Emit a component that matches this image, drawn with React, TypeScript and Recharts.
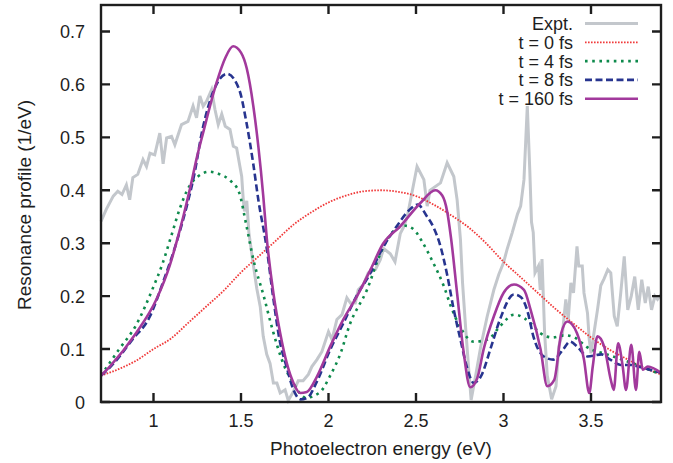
import React from "react";
import { LineChart, Line, XAxis, YAxis } from "recharts";

const exptEnergy = [
  0.7, 0.73, 0.77, 0.796, 0.82, 0.845, 0.864, 0.882, 0.91, 0.94, 0.96, 0.98, 1.007, 1.036, 1.055,
  1.075, 1.103, 1.122, 1.16, 1.197, 1.226, 1.246, 1.265, 1.284, 1.303, 1.332, 1.351, 1.37, 1.39,
  1.41, 1.437, 1.456, 1.475, 1.504, 1.513, 1.52, 1.533, 1.545, 1.57, 1.59, 1.61, 1.627, 1.647,
  1.666, 1.685, 1.705, 1.724, 1.752, 1.77, 1.8, 1.827, 1.855, 1.885, 1.905, 1.934, 1.962, 2.0,
  2.02, 2.048, 2.077, 2.105, 2.125, 2.153, 2.17, 2.2, 2.227, 2.268, 2.296, 2.315, 2.353, 2.38,
  2.41, 2.43, 2.45, 2.506, 2.545, 2.564, 2.58, 2.64, 2.678, 2.716, 2.735, 2.754, 2.766, 2.783,
  2.8, 2.815, 2.84, 2.87, 2.907, 2.945, 2.973, 3.0, 3.02, 3.05, 3.08, 3.098, 3.117, 3.136, 3.15,
  3.16, 3.17, 3.18, 3.2, 3.21, 3.22, 3.235, 3.25, 3.275, 3.3, 3.316, 3.337, 3.356, 3.37, 3.385,
  3.4, 3.42, 3.43, 3.45, 3.46, 3.48, 3.49, 3.5, 3.52, 3.537, 3.556, 3.575, 3.596, 3.613, 3.633,
  3.65, 3.67, 3.69, 3.71, 3.73, 3.75, 3.77, 3.79, 3.81, 3.827, 3.846, 3.865, 3.88, 3.9,
];
const exptValues = [
  0.341, 0.364, 0.389, 0.398, 0.392, 0.41, 0.382, 0.424, 0.43, 0.458, 0.445, 0.47, 0.467, 0.508,
  0.45, 0.499, 0.502, 0.486, 0.524, 0.53, 0.559, 0.537, 0.578, 0.559, 0.568, 0.59, 0.553, 0.524,
  0.544, 0.521, 0.515, 0.483, 0.48, 0.426, 0.382, 0.36, 0.38, 0.32, 0.26, 0.215, 0.18, 0.124,
  0.09, 0.073, 0.036, 0.036, 0.017, 0.023, 0.003, 0.02, 0.04, 0.04, 0.052, 0.067, 0.08, 0.095,
  0.133, 0.118, 0.156, 0.165, 0.197, 0.187, 0.187, 0.212, 0.222, 0.244, 0.25, 0.269, 0.29, 0.28,
  0.265, 0.318, 0.331, 0.35, 0.445, 0.42, 0.37, 0.4, 0.414, 0.452, 0.426, 0.382, 0.307, 0.225,
  0.143, 0.067, 0.004, 0.048, 0.105, 0.162, 0.212, 0.241, 0.263, 0.288, 0.32, 0.355, 0.37, 0.42,
  0.559, 0.44, 0.34, 0.32, 0.244, 0.257, 0.212, 0.27, 0.13, 0.05, 0.005, 0.03, 0.105, 0.13, 0.194,
  0.156, 0.225, 0.206, 0.294, 0.257, 0.257, 0.206, 0.168, 0.118, 0.092, 0.137, 0.174, 0.22, 0.233,
  0.25, 0.244, 0.162, 0.143, 0.206, 0.275, 0.174, 0.2, 0.237, 0.174, 0.231, 0.187, 0.218, 0.174,
  0.2, 0.194, 0.203,
];

const t0Energy = [
  0.7, 0.8, 0.9, 1.0, 1.1, 1.2, 1.3, 1.4, 1.5, 1.6, 1.7, 1.8, 1.9, 2.0, 2.1, 2.2, 2.3, 2.4, 2.5,
  2.6, 2.7, 2.8, 2.9, 3.0, 3.1, 3.2, 3.3, 3.4, 3.5, 3.6, 3.7, 3.8, 3.9,
];
const t0Values = [
  0.05, 0.062, 0.078, 0.1, 0.12, 0.15, 0.18, 0.21, 0.245, 0.275, 0.305, 0.335, 0.358, 0.377, 0.39,
  0.398, 0.4, 0.397, 0.389, 0.373, 0.353, 0.33, 0.3, 0.265, 0.235, 0.205, 0.175, 0.148, 0.122,
  0.1, 0.082, 0.065, 0.052,
];

const t4Energy = [
  0.7, 0.8, 0.9, 1.0, 1.05, 1.1, 1.15, 1.2, 1.25, 1.32, 1.38, 1.44, 1.49, 1.53, 1.57, 1.63, 1.68,
  1.74, 1.8, 1.87, 1.95, 2.01, 2.07, 2.12, 2.22, 2.3, 2.37, 2.44, 2.49, 2.54, 2.6, 2.66, 2.7, 2.75,
  2.83, 2.91, 2.98, 3.06, 3.12, 3.16, 3.21, 3.28, 3.35, 3.41, 3.48, 3.59, 3.73, 3.9,
];
const t4Values = [
  0.05, 0.098, 0.145, 0.218, 0.26, 0.312, 0.365, 0.405, 0.425, 0.435, 0.43, 0.418, 0.395, 0.335,
  0.27, 0.2, 0.137, 0.074, 0.035, 0.008, 0.018, 0.05, 0.093, 0.145, 0.212, 0.283, 0.322, 0.333,
  0.325, 0.3, 0.262, 0.218, 0.18, 0.143, 0.114, 0.118, 0.143, 0.165, 0.158, 0.147, 0.13, 0.122,
  0.126, 0.121, 0.103, 0.09, 0.074, 0.052,
];

const t8Energy = [
  0.7, 0.75, 0.88, 0.98, 1.05, 1.13, 1.19, 1.23, 1.28, 1.34, 1.42, 1.49, 1.53, 1.57, 1.6, 1.645,
  1.685, 1.72, 1.76, 1.8, 1.84, 1.88, 1.93, 2.01, 2.085, 2.16, 2.24, 2.3, 2.39, 2.46, 2.51, 2.56,
  2.6, 2.64, 2.68, 2.716, 2.754, 2.79, 2.83, 2.87, 2.93, 2.98, 3.06, 3.1, 3.14, 3.17, 3.23, 3.285,
  3.34, 3.38, 3.42, 3.48, 3.56, 3.61, 3.67, 3.73, 3.78, 3.9,
];
const t8Values = [
  0.05, 0.065, 0.118, 0.162, 0.222, 0.3, 0.37, 0.425, 0.515, 0.585, 0.62, 0.59, 0.53, 0.45, 0.38,
  0.295, 0.195, 0.118, 0.067, 0.023, 0.005, 0.008, 0.036, 0.099, 0.149, 0.2, 0.244, 0.285, 0.332,
  0.362, 0.373, 0.352, 0.33, 0.294, 0.237, 0.174, 0.118, 0.067, 0.036, 0.048, 0.105, 0.156, 0.203,
  0.198, 0.168, 0.125, 0.086, 0.08, 0.099, 0.114, 0.105, 0.086, 0.09, 0.08, 0.07, 0.07, 0.066,
  0.055,
];

const t160Energy = [
  0.7, 0.75, 0.9, 1.017, 1.093, 1.13, 1.17, 1.21, 1.25, 1.283, 1.36, 1.41, 1.455, 1.5, 1.533, 1.57,
  1.6, 1.627, 1.647, 1.685, 1.724, 1.762, 1.8, 1.838, 1.876, 1.934, 2.01, 2.085, 2.163, 2.24,
  2.31, 2.41, 2.525, 2.61, 2.65, 2.678, 2.7, 2.735, 2.77, 2.81, 2.85, 2.886, 2.945, 3.0, 3.06,
  3.117, 3.155, 3.212, 3.25, 3.29, 3.33, 3.365, 3.42, 3.46, 3.49, 3.51, 3.537, 3.575, 3.613, 3.63,
  3.655, 3.68, 3.7, 3.73, 3.757, 3.776, 3.796, 3.824, 3.9,
];
const t160Values = [
  0.05, 0.067, 0.13, 0.194, 0.258, 0.3, 0.35, 0.405, 0.465, 0.508, 0.603, 0.65, 0.672, 0.66, 0.63,
  0.56, 0.48, 0.39, 0.31, 0.206, 0.13, 0.073, 0.036, 0.017, 0.019, 0.048, 0.105, 0.156, 0.2, 0.25,
  0.298, 0.332, 0.376, 0.4, 0.39, 0.36, 0.31, 0.205, 0.1, 0.028, 0.045, 0.099, 0.162, 0.206,
  0.222, 0.212, 0.174, 0.099, 0.03, 0.042, 0.13, 0.152, 0.13, 0.08, 0.017, 0.067, 0.124, 0.105,
  0.042, 0.023, 0.111, 0.07, 0.023, 0.108, 0.023, 0.095, 0.061, 0.067, 0.055,
];

const xTicks = [1, 1.5, 2, 2.5, 3, 3.5];
const yTicks = [0, 0.1, 0.2, 0.3, 0.4, 0.5, 0.6, 0.7];
const xDomain = [0.7, 3.9];
const yDomain = [0, 0.75];

const toPoints = (energy: number[], values: number[]) =>
  energy.map((e, i) => ({ e, v: values[i] }));

const FONT = '"Liberation Sans", Arial, Helvetica, sans-serif';
const INK = "#1e1e1e";
const TICK_LEN = 9;

const W = 673;
const H = 463;
const MARGIN = { top: 5, right: 12, bottom: 0, left: 0 };
// plot box: left = y axis width, bottom = height - x axis height
const BOX = { left: 101, right: 661, top: 5, bottom: 402 };

const px = (t: number) =>
  BOX.left + ((t - xDomain[0]) / (xDomain[1] - xDomain[0])) * (BOX.right - BOX.left);
const py = (v: number) =>
  BOX.bottom - ((v - yDomain[0]) / (yDomain[1] - yDomain[0])) * (BOX.bottom - BOX.top);

const series = [
  { name: "Expt.", energy: exptEnergy, values: exptValues, color: "#c3c7cc", width: 3, dash: undefined, curve: "linear" },
  { name: "t = 0 fs", energy: t0Energy, values: t0Values, color: "#f03a3a", width: 1.8, dash: "1.6 1.4", curve: "monotone" },
  { name: "t = 4 fs", energy: t4Energy, values: t4Values, color: "#0e8a4c", width: 2.6, dash: "2.6 4.6", curve: "monotone" },
  { name: "t = 8 fs", energy: t8Energy, values: t8Values, color: "#27348f", width: 2.6, dash: "7 3.5", curve: "monotone" },
  { name: "t = 160 fs", energy: t160Energy, values: t160Values, color: "#a2399c", width: 2.6, dash: undefined, curve: "monotone" },
];

const BottomTick = ({ x, y, payload }: any) => (
  <text x={x} y={Number(y) + 25} textAnchor="middle" fontFamily={FONT} fontSize={18} fill={INK}>
    {payload.value}
  </text>
);
const LeftTick = ({ x, y, payload }: any) => (
  <text x={Number(x) - 16} y={Number(y) + 6.5} textAnchor="end" fontFamily={FONT} fontSize={18} fill={INK}>
    {payload.value}
  </text>
);

export default function App() {
  return (
    <div style={{ position: "absolute", left: 0, top: 0, width: W, height: H }}>
      <LineChart width={W} height={H} margin={MARGIN}>
        <XAxis
          dataKey="e"
          type="number"
          domain={xDomain}
          ticks={xTicks}
          height={61}
          axisLine={false}
          tickLine={false}
          tickSize={0}
          tickMargin={0}
          tick={<BottomTick />}
        />
        <YAxis
          type="number"
          domain={yDomain}
          ticks={yTicks}
          width={101}
          axisLine={false}
          tickLine={false}
          tickSize={0}
          tickMargin={0}
          tick={<LeftTick />}
        />
        {series.map((s) => (
          <Line
            key={s.name}
            data={toPoints(s.energy, s.values)}
            dataKey="v"
            name={s.name}
            type={s.curve as any}
            stroke={s.color}
            strokeWidth={s.width}
            strokeDasharray={s.dash}
            dot={false}
            activeDot={false}
            isAnimationActive={false}
          />
        ))}
      </LineChart>
      {/* frame with inward ticks, axis titles and the key */}
      <svg width={W} height={H} style={{ position: "absolute", left: 0, top: 0 }}>
        <rect
          x={BOX.left}
          y={BOX.top}
          width={BOX.right - BOX.left}
          height={BOX.bottom - BOX.top}
          stroke={INK}
          strokeWidth={2.4}
          fill="none"
        />
        {xTicks.map((t) => (
          <path
            key={`x${t}`}
            d={`M${px(t)},${BOX.bottom}V${BOX.bottom - TICK_LEN}M${px(t)},${BOX.top}V${BOX.top + TICK_LEN}`}
            stroke={INK}
            strokeWidth={2.4}
          />
        ))}
        {yTicks.map((v) => (
          <path
            key={`y${v}`}
            d={`M${BOX.left},${py(v)}H${BOX.left + TICK_LEN}M${BOX.right},${py(v)}H${BOX.right - TICK_LEN}`}
            stroke={INK}
            strokeWidth={2.4}
          />
        ))}
        <text
          x={31}
          y={205}
          transform="rotate(-90 31 205)"
          textAnchor="middle"
          fontFamily={FONT}
          fontSize={19}
          fill={INK}
        >
          Resonance profile (1/eV)
        </text>
        <text x={381} y={455} textAnchor="middle" fontFamily={FONT} fontSize={19} fill={INK}>
          Photoelectron energy (eV)
        </text>
        {series.map((s, i) => {
          const y = 23.5 + i * 18.8;
          return (
            <g key={s.name}>
              <text x={573} y={y + 6.5} textAnchor="end" fontFamily={FONT} fontSize={18} fill={INK}>
                {s.name}
              </text>
              <line
                x1={585}
                x2={638}
                y1={y}
                y2={y}
                stroke={s.color}
                strokeWidth={s.width}
                strokeDasharray={s.dash}
              />
            </g>
          );
        })}
      </svg>
    </div>
  );
}
